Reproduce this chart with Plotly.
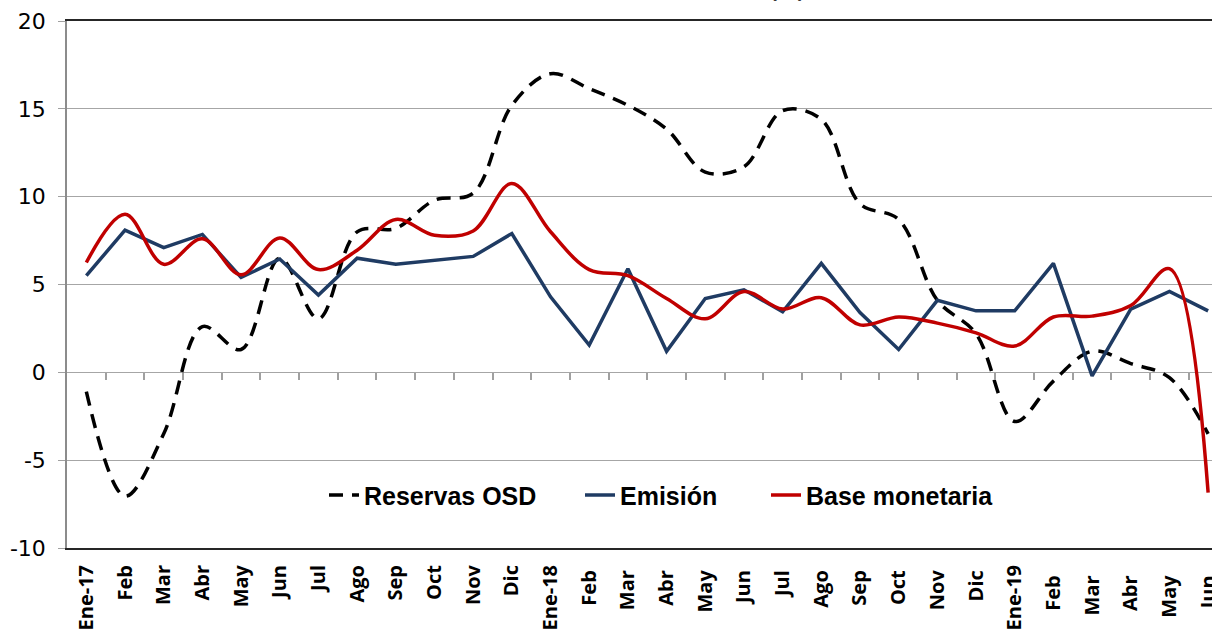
import plotly.graph_objects as go

categories = ["Ene-17", "Feb", "Mar", "Abr", "May", "Jun", "Jul", "Ago", "Sep", "Oct", "Nov", "Dic",
              "Ene-18", "Feb ", "Mar ", "Abr ", "May ", "Jun ", "Jul ", "Ago ", "Sep ", "Oct ", "Nov ", "Dic ",
              "Ene-19", "Feb  ", "Mar  ", "Abr  ", "May  ", "Jun  "]

reservas_osd = [-1.1, -7.05, -3.5, 2.6, 1.3, 6.5, 3.05, 8.0, 8.2, 9.8, 10.2, 15.2,
                17.0, 16.15, 15.2, 13.85, 11.4, 11.7, 14.9, 14.4, 9.6, 8.7, 4.1, 2.2,
                -2.8, -0.5, 1.2, 0.5, -0.3, -3.5]

emision = [5.5, 8.1, 7.1, 7.85, 5.4, 6.45, 4.4, 6.5, 6.15, 6.4, 6.6, 7.9,
           4.3, 1.55, 5.9, 1.2, 4.2, 4.7, 3.45, 6.2, 3.4, 1.3, 4.1, 3.5,
           3.5, 6.2, -0.2, 3.6, 4.6, 3.5]

base_monetaria = [6.25, 9.0, 6.15, 7.6, 5.55, 7.65, 5.85, 6.95, 8.7, 7.8, 8.05, 10.75,
                  8.0, 5.85, 5.5, 4.2, 3.05, 4.6, 3.6, 4.25, 2.7, 3.15, 2.8, 2.25,
                  1.5, 3.15, 3.2, 3.8, 5.9, -6.85]

y_ticks = [-10, -5, 0, 5, 10, 15, 20]
y_ticktext = ["-10", "-5", "0", "5", "10", "15", "20"]

FONT = "Open Sans"
LEG_FONT = dict(family="Liberation Sans", size=25, color="#000000", weight="bold")

fig = go.Figure()

fig.add_trace(go.Scatter(
    x=categories, y=reservas_osd, name="Reservas OSD", mode="lines", legend="legend",
    line=dict(color="#000000", width=3.5, dash="14px,9px", shape="spline", smoothing=1.0),
))
fig.add_trace(go.Scatter(
    x=categories, y=emision, name="Emisión", mode="lines", legend="legend2",
    line=dict(color="#1F3B63", width=3.5),
))
fig.add_trace(go.Scatter(
    x=categories, y=base_monetaria, name="Base monetaria", mode="lines", legend="legend3",
    line=dict(color="#C00000", width=3.5, shape="spline", smoothing=1.0),
))
# invisible helper trace so the zero-line tick axis is rendered
fig.add_trace(go.Scatter(
    x=[0], y=[None], xaxis="x2", yaxis="y", mode="lines",
    showlegend=False, hoverinfo="skip",
))

n = len(categories)
x_range = [-0.5, n - 0.9]
PL, PW = 67, 1212 - 67


def leg(px):
    return dict(
        orientation="h", x=(px - PL) / PW, xanchor="left", y=0.10, yanchor="middle",
        bgcolor="rgba(0,0,0,0)", font=LEG_FONT, itemwidth=30,
    )


fig.update_layout(
    width=1212, height=633,
    margin=dict(l=PL, r=0, t=21, b=85, autoexpand=False),
    paper_bgcolor="white", plot_bgcolor="white",
    font=dict(family=FONT, color="#000000"),
    showlegend=True,
    legend=leg(324),
    legend2=leg(580),
    legend3=leg(766),
    xaxis=dict(
        type="category", range=x_range, automargin=False,
        showgrid=False, zeroline=False,
        showline=True, linecolor="#262626", linewidth=2, mirror=True,
        ticks="", tickangle=-90,
        tickfont=dict(family=FONT, size=20, color="#000000", weight="bold"),
        ticklabelstandoff=7,
    ),
    xaxis2=dict(
        type="linear", range=x_range, overlaying="x", anchor="free", position=1/3,
        automargin=False,
        showgrid=False, zeroline=False, showline=False,
        tickmode="array", tickvals=[i + 0.5 for i in range(n - 1)],
        ticks="outside", ticklen=7, tickcolor="#a0a0a0", tickwidth=1.5,
        showticklabels=False,
    ),
    yaxis=dict(
        range=[-10, 20], tickmode="array", tickvals=y_ticks, ticktext=y_ticktext,
        automargin=False,
        showgrid=True, gridcolor="#a6a6a6", gridwidth=1.2,
        zeroline=False,
        showline=True, linecolor="#8c8c8c", linewidth=1.5,
        ticks="outside", ticklen=7, tickcolor="#a0a0a0",
        tickfont=dict(family="DejaVu Sans", size=22, color="#000000"),
        ticklabelstandoff=8,
    ),
    annotations=[dict(
        text="(%)", xref="paper", yref="paper", x=0.629, y=1, xanchor="center",
        yanchor="bottom", yshift=16, showarrow=False,
        font=dict(family=FONT, size=22, color="#000000", weight="bold"),
    )],
)

fig.write_html(
    "out.html",
    config={"displayModeBar": False},
    post_script="document.body.style.margin='0';document.body.style.overflow='hidden';",
)
